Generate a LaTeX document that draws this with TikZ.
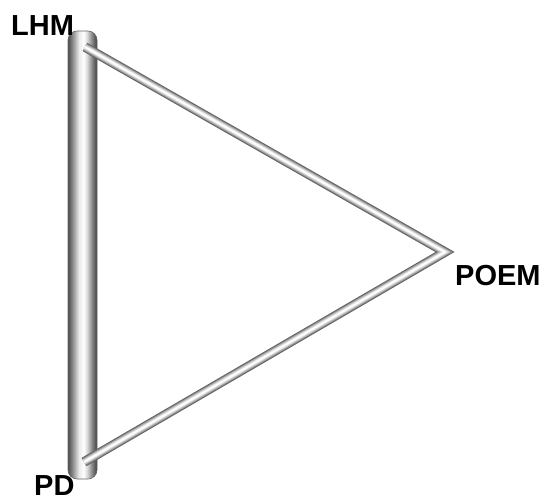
\documentclass[tikz,border=0pt]{standalone}
\usepackage{fontspec}
\setmainfont{Liberation Sans}
\pgfdeclarehorizontalshading{barshade}{100bp}{color(0bp)=(black!70); color(25bp)=(black!70); color(33bp)=(black!45); color(44bp)=(black!8); color(52bp)=(white); color(58bp)=(black!15); color(67bp)=(black!50); color(75bp)=(black!75); color(100bp)=(black!75)}
\tikzset{
  lbl/.style={inner sep=0pt, font=\fontsize{29}{29}\selectfont\bfseries},
  tubea/.style={draw=black!62, line width=9.5pt, line join=miter},
  tubeb/.style={draw=black!42, line width=7.5pt, line join=miter},
  tubec/.style={draw=black!24, line width=5.5pt, line join=miter},
  tubed/.style={draw=black!9, line width=3.5pt, line join=miter},
  tubee/.style={draw=white, line width=1.6pt, line join=miter},
}
\begin{document}
\begin{tikzpicture}[x=1pt,y=-1pt]
\useasboundingbox (0,0) rectangle (545,500);
% thick bar
\path[shading=barshade, draw=black!60, line width=0.6pt, rounded corners=9pt] (68,31) rectangle (97,479);
% vertices
\coordinate (lhm) at (85,47);
\coordinate (poem) at (445,252);
\coordinate (pd) at (84,462);
\foreach \s in {tubea,tubeb,tubec,tubed,tubee}
  \draw[\s] (lhm) -- (poem) -- (pd);
% labels
\node[lbl, anchor=base west] (tlhm) at (11,36) {LHM};
\node[lbl, anchor=base west] (tpd) at (34,495) {PD};
\node[lbl, anchor=base west] (tpoem) at (455,285) {POEM};
\end{tikzpicture}
\end{document}
